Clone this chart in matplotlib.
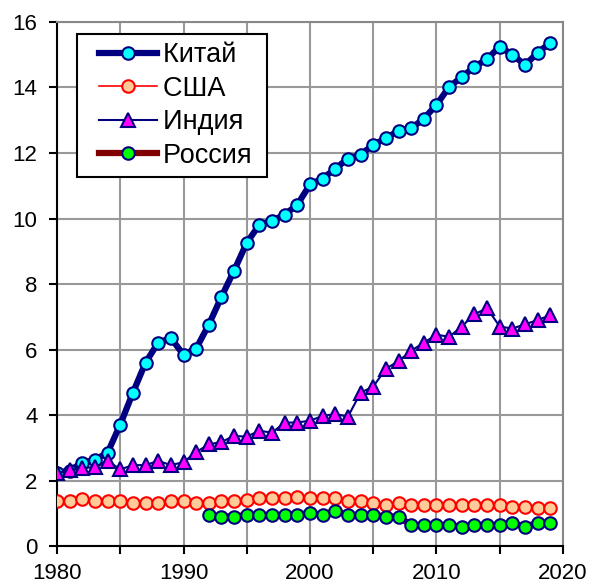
import numpy as np
import matplotlib
matplotlib.use('Agg')
import matplotlib.pyplot as plt
from matplotlib.ticker import MultipleLocator
from matplotlib.legend_handler import HandlerLine2D

plt.rcParams['font.family'] = ['Liberation Sans', 'DejaVu Sans']

years = list(range(1980, 2020))
china = [2.24, 2.30, 2.55, 2.63, 2.85, 3.71, 4.68, 5.60, 6.21, 6.35,
         5.84, 6.03, 6.76, 7.61, 8.41, 9.26, 9.81, 9.93, 10.12, 10.42,
         11.04, 11.22, 11.52, 11.83, 11.95, 12.25, 12.45, 12.68, 12.75, 13.05,
         13.47, 14.02, 14.32, 14.63, 14.87, 15.25, 15.00, 14.69, 15.06, 15.37]
usa = [1.38, 1.38, 1.44, 1.38, 1.38, 1.38, 1.32, 1.32, 1.32, 1.38,
       1.38, 1.32, 1.32, 1.38, 1.38, 1.40, 1.46, 1.46, 1.46, 1.51,
       1.46, 1.46, 1.46, 1.38, 1.38, 1.32, 1.25, 1.32, 1.25, 1.25,
       1.25, 1.25, 1.25, 1.25, 1.25, 1.25, 1.20, 1.20, 1.15, 1.15]
india = [2.22, 2.32, 2.37, 2.42, 2.60, 2.34, 2.47, 2.47, 2.60, 2.47,
         2.56, 2.87, 3.10, 3.18, 3.36, 3.34, 3.52, 3.46, 3.77, 3.77,
         3.83, 3.97, 4.03, 3.95, 4.68, 4.87, 5.41, 5.65, 5.96, 6.21,
         6.45, 6.39, 6.70, 7.08, 7.26, 6.70, 6.64, 6.77, 6.90, 7.05]
russia_years = list(range(1992, 2020))
russia = [0.95, 0.90, 0.90, 0.95, 0.95, 0.95, 0.95, 0.95,
          1.02, 0.95, 1.08, 0.95, 0.95, 0.95, 0.90, 0.90, 0.64, 0.64,
          0.64, 0.64, 0.59, 0.64, 0.64, 0.64, 0.71, 0.59, 0.71, 0.71]
labels = ['Китай', 'США', 'Индия', 'Россия']

fig = plt.figure(figsize=(5.92, 5.88), dpi=100)
ax = fig.add_axes([0.0963, 0.0714, 0.8547, 0.8912])

l1, = ax.plot(years, china, color='#000080', lw=4.5, marker='o', ms=9,
              mfc='#00FFFF', mec='#000080', mew=1.5, zorder=3)
l2, = ax.plot(years, usa, color='#FF0000', lw=1.2, marker='o', ms=9,
              mfc='#FFCC99', mec='#FF0000', mew=1.5, zorder=3)
l3, = ax.plot(years, india, color='#000080', lw=1.5, marker='^', ms=10,
              mfc='#FF00FF', mec='#000080', mew=1.5, zorder=3)
l4, = ax.plot(russia_years, russia, color='#800000', lw=4.5, marker='o', ms=9,
              mfc='#00FF00', mec='#000080', mew=1.5, zorder=3)

ax.set_xlim(1980, 2020)
ax.set_ylim(0, 16)
ax.xaxis.set_major_locator(MultipleLocator(10))
ax.xaxis.set_minor_locator(MultipleLocator(5))
ax.yaxis.set_major_locator(MultipleLocator(2))
ax.grid(True, which='both', color='#999999', lw=1.5)
ax.set_axisbelow(True)

for s in ['top', 'right']:
    ax.spines[s].set_color('#888888')
    ax.spines[s].set_linewidth(1.5)
for s in ['left', 'bottom']:
    ax.spines[s].set_color('black')
    ax.spines[s].set_linewidth(1.5)

ax.tick_params(which='both', direction='out', length=6, width=1.5,
               labelsize=16, colors='black')
ax.tick_params(axis='y', pad=8)
ax.tick_params(axis='x', pad=6)

# extra left room inside the legend box via the handler xpad
hmap = {h: HandlerLine2D(xpad=0.5) for h in (l1, l2, l3, l4)}
leg = ax.legend([l1, l2, l3, l4], [t + ' ' for t in labels],
                handler_map=hmap,
                loc='upper left', bbox_to_anchor=(0.04, 0.977), fontsize=19.5,
                frameon=True, fancybox=False, edgecolor='black',
                handlelength=2.65, borderpad=0.3, labelspacing=0.28,
                handletextpad=0.2, borderaxespad=0)
leg.get_frame().set_linewidth(1.5)
leg.get_frame().set_alpha(1)

fig.savefig('out.png', dpi=100)
